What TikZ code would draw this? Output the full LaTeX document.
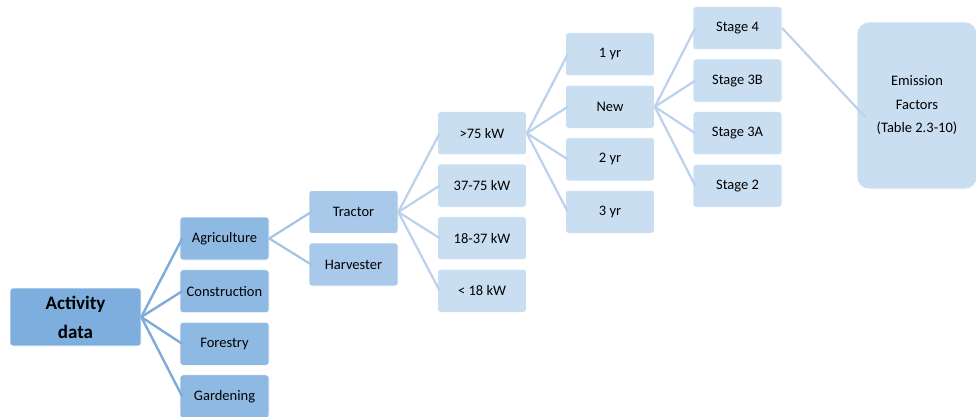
\documentclass[tikz,border=0pt]{standalone}
\usepackage{fontspec}
\setmainfont{Carlito}
\usetikzlibrary{calc}
\definecolor{cA}{HTML}{7DAEDE}
\definecolor{cB}{HTML}{8EB9E3}
\definecolor{cC}{HTML}{A9C9EA}
\definecolor{cD}{HTML}{CADEF2}
\definecolor{lA}{HTML}{7EABD9}
\definecolor{lB}{HTML}{A5C3E4}
\definecolor{lC}{HTML}{BCD2EC}
\tikzset{
  box/.style={draw=white, line width=0.6pt, rounded corners=3pt, minimum width=89pt, minimum height=43pt, inner sep=1pt, text=black, font=\fontsize{14.5}{17}\selectfont},
  lvA/.style={box, fill=cB},
  lvB/.style={box, fill=cC},
  lvC/.style={box, fill=cD},
  conA/.style={draw=lA, line width=2.4pt},
  conB/.style={draw=lB, line width=2.2pt},
  conC/.style={draw=lC, line width=2.2pt},
}
\begin{document}
\begin{tikzpicture}[x=1pt,y=-1pt]
\useasboundingbox (0,0) rectangle (976,417);
% nodes
\node[box, fill=cA, minimum width=131pt, minimum height=58pt, align=center, font=\fontsize{19}{29}\selectfont\bfseries] (act) at (75.5,317) {Activity\\data};
\node[lvA] (agr) at (224.5,238.5) {Agriculture};
\node[lvA] (con) at (224.5,291.2) {Construction};
\node[lvA] (for) at (224.5,343.8) {Forestry};
\node[lvA] (gar) at (224.5,396.4) {Gardening};
\node[lvB] (tra) at (353.5,212) {Tractor};
\node[lvB] (har) at (353.5,264.5) {Harvester};
\node[lvC] (k1) at (482,133.2) {>75 kW};
\node[lvC] (k2) at (482,185.6) {37-75 kW};
\node[lvC] (k3) at (482,238.2) {18-37 kW};
\node[lvC] (k4) at (482,290.8) {< 18 kW};
\node[lvC] (y1) at (610,54.3) {1 yr};
\node[lvC] (yn) at (610,106.8) {New};
\node[lvC] (y2) at (610,159.3) {2 yr};
\node[lvC] (y3) at (610,211.8) {3 yr};
\node[lvC] (s4) at (737.5,28.2) {Stage 4};
\node[lvC] (s3b) at (737.5,80.7) {Stage 3B};
\node[lvC] (s3a) at (737.5,133.2) {Stage 3A};
\node[lvC] (s2) at (737.5,185.7) {Stage 2};
\node[box, fill=cD, rounded corners=12pt, minimum width=120pt, minimum height=167pt, align=center, font=\fontsize{14.5}{23.5}\selectfont] (ef) at (917,105.5) {Emission\\Factors\\(Table 2.3-10)};
% connectors
\foreach \c in {agr,con,for,gar} \draw[conA] (act.east) -- ($(\c.west)+(2.5,0)$);
\foreach \c in {tra,har} \draw[conB] (agr.east) -- ($(\c.west)+(2.5,0)$);
\foreach \c in {k1,k2,k3,k4} \draw[conC] (tra.east) -- ($(\c.west)+(2.5,0)$);
\foreach \c in {y1,yn,y2,y3} \draw[conC] (k1.east) -- ($(\c.west)+(2.5,0)$);
\foreach \c in {s4,s3b,s3a,s2} \draw[conC] (yn.east) -- ($(\c.west)+(2.5,0)$);
\coordinate (efin) at ($(ef.west)+(8.5,11.5)$);
\draw[conC] (s4.east) -- (efin);
\end{tikzpicture}
\end{document}
